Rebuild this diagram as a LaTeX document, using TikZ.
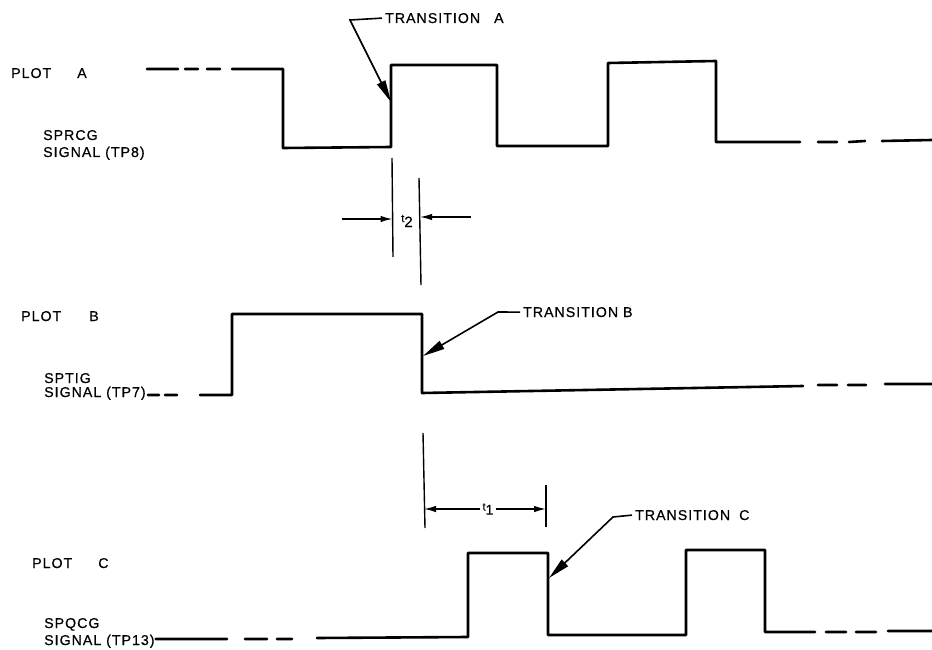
\documentclass[tikz,border=0pt]{standalone}
\usepackage{fontspec}
\setmainfont{Liberation Sans}[LetterSpace=7, FakeBold=0.6]
\usetikzlibrary{arrows.meta}
\begin{document}
\begin{tikzpicture}[x=1pt,y=-1pt,
  sig/.style={line width=2.6pt, line join=round, line cap=round},
  lbl/.style={font=\fontsize{14.2}{17}\selectfont, inner sep=0pt, anchor=base west},
  lead/.style={line width=1.6pt, -{Triangle[length=22pt,width=9pt]}},
  dim/.style={line width=1.4pt},
  dimarr/.style={line width=1.4pt, -{Latex[length=12pt,width=6.5pt]}}]
\useasboundingbox (0,0) rectangle (932,650);

% ---------- Plot A ----------
\node[lbl] (plotA) at (11,78) {PLOT\hspace{26pt}A};
\node[lbl] (sprcg) at (43,140) {SPRCG};
\node[lbl] (sigA)  at (43,157) {SIGNAL (TP8)};
\draw[sig] (147,69) -- (178,69) (185,69) -- (198,69) (207,69) -- (220,69)
  (232,69) -- (283,69) -- (283,148) -- (391,147) -- (391,65) -- (497,65)
  -- (497,146) -- (608,146) -- (608,63) -- (716,61) -- (716,142) -- (800,142)
  (818,142) -- (837,142) (849,142) -- (865,141) (882,141) -- (932,140);

\node[lbl] (tA) at (385,23) {TRANSITION\hspace{14pt}A};
\coordinate (kA) at (350,20);
\coordinate (tipA) at (391,102);
\draw[lead] ([xshift=-3pt]tA.west) -- (kA) -- (tipA);

% ---------- t2 ----------
\draw[dim] (392,158) -- (393,257);
\draw[dim] (419,178) -- (421,285);
\coordinate (t2l) at (342,219);
\coordinate (t2r) at (471,217);
\draw[dimarr] (t2l) -- (392.5,219);
\draw[dimarr] (t2r) -- (420,217);
\node[inner sep=0pt] (t2) at (407,221) {\raisebox{5pt}{\fontsize{11}{11}\selectfont t}\fontsize{15}{15}\selectfont 2};

% ---------- Plot B ----------
\node[lbl] (plotB) at (21,321) {PLOT\hspace{28pt}B};
\node[lbl] (sptig) at (44,383) {SPTIG};
\node[lbl] (sigB)  at (44,397) {SIGNAL (TP7)};
\draw[sig] ([xshift=2pt]sigB.east |- 0,395) -- (159,395) (165,395) -- (177,395)
  (200,395) -- (232,395) -- (232,314) -- (422,314) -- (422,393) -- (803,386)
  (818,385) -- (837,385) (848,385) -- (866,385) (885,384) -- (932,384);

\node[lbl] (tB) at (523,317) {TRANSITION B};
\coordinate (kB) at (498,312);
\coordinate (tipB) at (423,356);
\draw[lead] ([xshift=-3pt]tB.west) -- (kB) -- (tipB);

% ---------- t1 ----------
\draw[dim] (423,433) -- (425,528);
\draw[dim] (546,485) -- (546,527);
\node[inner sep=2pt] (t1) at (488,509) {\raisebox{4pt}{\fontsize{11}{11}\selectfont t}\fontsize{14}{14}\selectfont 1};
\draw[dimarr] (t1.west) -- (424,509);
\draw[dimarr] (t1.east) -- (546,509);

% ---------- Plot C ----------
\node[lbl] (plotC) at (32,568) {PLOT\hspace{26pt}C};
\node[lbl] (spqcg) at (44,628) {SPQCG};
\node[lbl] (sigC)  at (44,645) {SIGNAL (TP13)};
\draw[sig] ([xshift=1pt]sigC.east |- 0,639) -- (227,639) (245,639) -- (267,639)
  (277,639) -- (292,639)
  (317,638) -- (468,637) -- (468,553) -- (548,553) -- (548,635) -- (686,635)
  -- (686,550) -- (765,550) -- (765,632) -- (815,632)
  (826,632) -- (846,632) (856,632) -- (876,632) (888,631) -- (932,631);

\node[lbl] (tC) at (635,520) {TRANSITION\hspace{9pt}C};
\coordinate (kC) at (613,517);
\coordinate (tipC) at (549,578);
\draw[lead] ([xshift=-3pt]tC.west) -- (kC) -- (tipC);
\end{tikzpicture}
\end{document}
